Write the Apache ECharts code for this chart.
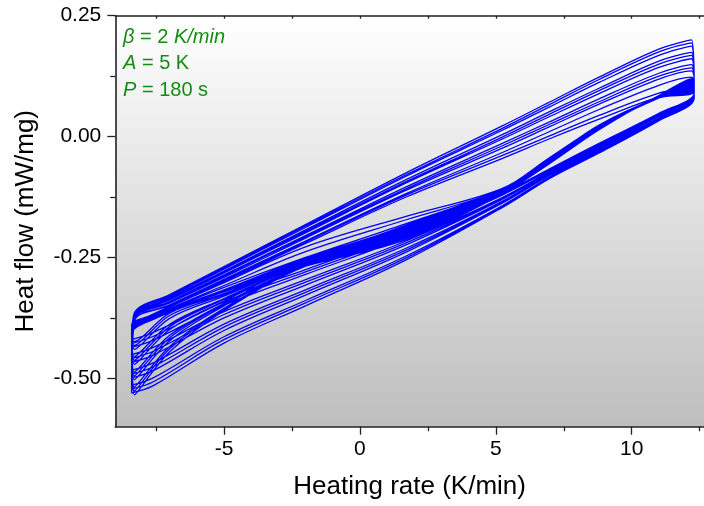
<!DOCTYPE html>
<html>
<head>
<meta charset="utf-8">
<script src="https://cdn.jsdelivr.net/npm/echarts@6/dist/echarts.min.js"></script>
<style>
html,body{margin:0;padding:0;background:#ffffff;}
#chart{width:704px;height:506px;}
</style>
</head>
<body>
<div id="chart"></div>
<script>
// Heating-rate sample positions along each modulation cycle (K/min)
const rateSamples = [-8.4, -7.6, -5, -2, 1.7, 5.2, 7, 8.8, 11, 12.3, 12.2, 11, 8.8, 7, 5.2, 1.7, -2, -5, -7, -8.3];

// Heat flow (mW/mg) for each cycle
const loopP1 = [-0.390,-0.368,-0.302,-0.228,-0.165,-0.108,-0.045,0.024,0.080,0.095, 0.200,0.181,0.123,0.072,0.021,-0.075,-0.182,-0.269,-0.327,-0.365];
const loopP2 = [-0.393,-0.370,-0.308,-0.238,-0.172,-0.110,-0.046,0.023,0.081,0.098, 0.187,0.168,0.112,0.062,0.012,-0.082,-0.188,-0.274,-0.331,-0.368];
const loopP3 = [-0.396,-0.372,-0.317,-0.252,-0.185,-0.111,-0.048,0.021,0.081,0.101, 0.174,0.156,0.100,0.052,0.003,-0.089,-0.193,-0.278,-0.334,-0.371];
const loopP4 = [-0.399,-0.373,-0.318,-0.256,-0.190,-0.113,-0.049,0.020,0.082,0.104, 0.161,0.143,0.089,0.042,-0.006,-0.096,-0.199,-0.282,-0.338,-0.374];
const loopP5 = [-0.401,-0.375,-0.318,-0.259,-0.196,-0.115,-0.051,0.018,0.083,0.106, 0.149,0.131,0.078,0.031,-0.015,-0.104,-0.205,-0.286,-0.341,-0.376];
const loopP6 = [-0.404,-0.376,-0.319,-0.262,-0.201,-0.117,-0.052,0.017,0.084,0.109, 0.136,0.119,0.067,0.021,-0.025,-0.111,-0.210,-0.291,-0.344,-0.379];
const loopP7 = [-0.407,-0.377,-0.320,-0.265,-0.207,-0.118,-0.054,0.015,0.084,0.112, 0.123,0.106,0.056,0.011,-0.034,-0.118,-0.216,-0.295,-0.348,-0.382];
const loopP8 = [-0.410,-0.378,-0.321,-0.268,-0.213,-0.120,-0.055,0.014,0.085,0.115, 0.095,0.082,0.036,-0.004,-0.046,-0.125,-0.221,-0.299,-0.351,-0.385];
const loopP9 = [-0.392,-0.371,-0.312,-0.250,-0.180,-0.109,-0.046,0.023,0.080,0.097, 0.194,0.175,0.118,0.067,0.016,-0.079,-0.185,-0.271,-0.329,-0.366];
const loopP10 = [-0.398,-0.372,-0.317,-0.254,-0.188,-0.112,-0.049,0.020,0.082,0.102, 0.168,0.150,0.095,0.047,-0.002,-0.093,-0.196,-0.280,-0.336,-0.372];
const loopP11 = [-0.402,-0.375,-0.319,-0.260,-0.198,-0.116,-0.051,0.018,0.083,0.108, 0.142,0.125,0.072,0.026,-0.020,-0.108,-0.207,-0.288,-0.342,-0.377];
const loopP12 = [-0.408,-0.377,-0.320,-0.266,-0.210,-0.119,-0.054,0.015,0.085,0.113, 0.104,0.090,0.044,0.002,-0.040,-0.121,-0.218,-0.297,-0.349,-0.383];

const loopQ1 = [-0.420,-0.405,-0.336,-0.275,-0.200,-0.118,-0.066,-0.014,0.048,0.090, 0.105,0.080,0.022,-0.043,-0.110,-0.183,-0.258,-0.325,-0.365,-0.424];
const loopQ2 = [-0.436,-0.421,-0.349,-0.285,-0.208,-0.122,-0.069,-0.017,0.046,0.089, 0.107,0.081,0.021,-0.044,-0.111,-0.187,-0.259,-0.330,-0.376,-0.440];
const loopQ3 = [-0.451,-0.436,-0.362,-0.296,-0.216,-0.127,-0.072,-0.020,0.044,0.087, 0.109,0.081,0.021,-0.044,-0.112,-0.190,-0.261,-0.335,-0.388,-0.455];
const loopQ4 = [-0.467,-0.452,-0.375,-0.307,-0.224,-0.131,-0.075,-0.023,0.042,0.086, 0.111,0.082,0.020,-0.045,-0.113,-0.194,-0.262,-0.340,-0.399,-0.471];
const loopQ5 = [-0.483,-0.468,-0.388,-0.317,-0.231,-0.135,-0.077,-0.025,0.039,0.084, 0.114,0.083,0.019,-0.046,-0.115,-0.197,-0.264,-0.345,-0.411,-0.487];
const loopQ6 = [-0.499,-0.484,-0.401,-0.328,-0.239,-0.139,-0.080,-0.028,0.037,0.083, 0.116,0.084,0.018,-0.047,-0.116,-0.201,-0.265,-0.350,-0.422,-0.503];
const loopQ7 = [-0.514,-0.499,-0.414,-0.339,-0.247,-0.144,-0.083,-0.031,0.035,0.081, 0.118,0.084,0.018,-0.047,-0.117,-0.204,-0.267,-0.355,-0.434,-0.518];
const loopQ8 = [-0.530,-0.515,-0.427,-0.350,-0.255,-0.148,-0.086,-0.034,0.033,0.080, 0.120,0.085,0.017,-0.048,-0.118,-0.208,-0.268,-0.360,-0.445,-0.534];
const loopQ9 = [-0.428,-0.413,-0.342,-0.280,-0.204,-0.120,-0.067,-0.015,0.047,0.089, 0.106,0.080,0.021,-0.044,-0.110,-0.185,-0.258,-0.327,-0.370,-0.432];
const loopQ10 = [-0.459,-0.444,-0.368,-0.301,-0.220,-0.129,-0.073,-0.021,0.043,0.086, 0.110,0.082,0.020,-0.045,-0.112,-0.192,-0.261,-0.337,-0.393,-0.463];
const loopQ11 = [-0.491,-0.476,-0.394,-0.322,-0.235,-0.137,-0.078,-0.026,0.038,0.083, 0.115,0.083,0.019,-0.046,-0.115,-0.199,-0.264,-0.347,-0.416,-0.495];
const loopQ12 = [-0.522,-0.507,-0.420,-0.344,-0.251,-0.146,-0.084,-0.032,0.034,0.080, 0.119,0.084,0.017,-0.047,-0.117,-0.206,-0.267,-0.357,-0.439,-0.526];

// Tick values
const xMajorTicks = [-5, 0, 5, 10];
const xMinorTicks = [-7.5, -2.5, 2.5, 7.5, 12.5];
const xTopTicks = [-7.5, -5, -2.5, 0, 2.5, 5, 7.5, 10, 12.5];
const yMajorTicks = [-0.5, -0.25, 0, 0.25];
const yMinorTicks = [-0.375, -0.125, 0.125];

const loopOrder = [loopQ1, loopP1, loopQ9, loopP9, loopQ2, loopP2, loopQ3, loopP3,
                   loopQ10, loopP10, loopQ4, loopP4, loopQ5, loopP5, loopQ11, loopP11,
                   loopQ6, loopP6, loopQ7, loopP7, loopQ12, loopP12, loopQ8, loopP8];

const seriesData = [];
loopOrder.forEach(function (loop) {
  loop.forEach(function (v, i) { seriesData.push([rateSamples[i], v]); });
});

const X_MIN = -9, X_MAX = 12.66, Y_MIN = -0.6, Y_MAX = 0.25;
const FONT = '"Liberation Sans", Arial, sans-serif';
const AXIS_COLOR = '#222';

const chart = echarts.init(document.getElementById('chart'), null, {renderer: 'canvas'});
chart.setOption({
  animation: false,
  grid: {
    left: 115.3, right: 0, top: 15.7, bottom: 79.3,
    show: true, borderWidth: 0,
    backgroundColor: {
      type: 'linear', x: 0, y: 0, x2: 0, y2: 1,
      colorStops: [{offset: 0, color: '#ffffff'}, {offset: 1, color: '#bebebe'}]
    }
  },
  xAxis: [
    {
      type: 'value', min: X_MIN, max: X_MAX, position: 'bottom',
      name: 'Heating rate (K/min)', nameLocation: 'middle', nameGap: 47,
      nameTextStyle: {fontFamily: FONT, fontSize: 26, color: '#000'},
      axisLine: {show: true, onZero: false, lineStyle: {color: AXIS_COLOR, width: 1.6}},
      axisTick: {show: true, inside: false, length: 8, customValues: xMajorTicks, lineStyle: {color: AXIS_COLOR, width: 1.3}},
      axisLabel: {show: true, customValues: xMajorTicks, margin: 12, fontFamily: FONT, fontSize: 21, color: '#000'},
      splitLine: {show: false}
    },
    {
      type: 'value', min: X_MIN, max: X_MAX, position: 'bottom',
      axisLine: {show: false, onZero: false},
      axisTick: {show: true, inside: false, length: 4.5, customValues: xMinorTicks, lineStyle: {color: AXIS_COLOR, width: 1.3}},
      axisLabel: {show: false},
      splitLine: {show: false}
    },
    {
      type: 'value', min: X_MIN, max: X_MAX, position: 'top',
      axisLine: {show: true, onZero: false, lineStyle: {color: AXIS_COLOR, width: 1.6}},
      axisTick: {show: true, inside: true, length: 3, customValues: xTopTicks, lineStyle: {color: AXIS_COLOR, width: 1.3}},
      axisLabel: {show: false},
      splitLine: {show: false}
    }
  ],
  yAxis: [
    {
      type: 'value', min: Y_MIN, max: Y_MAX, position: 'left',
      name: 'Heat flow (mW/mg)', nameLocation: 'middle', nameGap: 76, nameRotate: 90,
      nameTextStyle: {fontFamily: FONT, fontSize: 26, color: '#000'},
      axisLine: {show: true, onZero: false, lineStyle: {color: AXIS_COLOR, width: 1.6}},
      axisTick: {show: true, inside: false, length: 8, customValues: yMajorTicks, lineStyle: {color: AXIS_COLOR, width: 1.3}},
      axisLabel: {show: true, customValues: yMajorTicks, margin: 14, fontFamily: FONT, fontSize: 21, color: '#000',
                  formatter: function (v) { return v.toFixed(2); }},
      splitLine: {show: false}
    },
    {
      type: 'value', min: Y_MIN, max: Y_MAX, position: 'left',
      axisLine: {show: false, onZero: false},
      axisTick: {show: true, inside: false, length: 5, customValues: yMinorTicks, lineStyle: {color: AXIS_COLOR, width: 1.3}},
      axisLabel: {show: false},
      splitLine: {show: false}
    }
  ],
  graphic: [
    {type: 'text', left: 123, top: 27, z: 10,
     style: {text: '{i|β} = 2 {i|K/min}', fill: '#148c14', font: '20px ' + FONT,
             rich: {i: {fontStyle: 'italic', fontFamily: FONT, fontSize: 20, fill: '#148c14', color: '#148c14'}}}},
    {type: 'text', left: 123, top: 53.5, z: 10,
     style: {text: '{i|A} = 5 K', fill: '#148c14', font: '20px ' + FONT,
             rich: {i: {fontStyle: 'italic', fontFamily: FONT, fontSize: 20, fill: '#148c14', color: '#148c14'}}}},
    {type: 'text', left: 123, top: 80, z: 10,
     style: {text: '{i|P} = 180 s', fill: '#148c14', font: '20px ' + FONT,
             rich: {i: {fontStyle: 'italic', fontFamily: FONT, fontSize: 20, fill: '#148c14', color: '#148c14'}}}}
  ],
  series: [
    {
      type: 'line', xAxisIndex: 0, yAxisIndex: 0,
      data: seriesData, showSymbol: false, smooth: 0.35,
      lineStyle: {color: '#0000ff', width: 1.3},
      clip: true
    }
  ]
});
</script>
</body>
</html>
